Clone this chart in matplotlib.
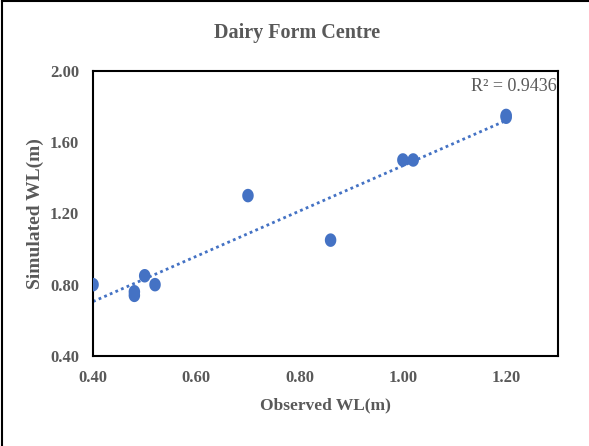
import matplotlib
matplotlib.use("Agg")
import matplotlib.pyplot as plt
import numpy as np
from matplotlib.lines import Line2D
from matplotlib.path import Path

observed = [0.40, 0.48, 0.48, 0.50, 0.52, 0.70, 0.86, 1.00, 1.02, 1.20, 1.20]
simulated = [0.80, 0.76, 0.74, 0.85, 0.80, 1.30, 1.05, 1.50, 1.50, 1.75, 1.74]
x_ticks = [0.40, 0.60, 0.80, 1.00, 1.20]
y_ticks = [0.40, 0.80, 1.20, 1.60, 2.00]
r_squared = 0.9436
title = "Dairy Form Centre"
x_label = "Observed WL(m)"
y_label = "Simulated WL(m)"

blue = "#4472C4"
gray = "#595959"
serif = ["Liberation Serif", "DejaVu Serif"]

fig = plt.figure(figsize=(5.89, 4.46), dpi=100)
ax = fig.add_axes([0.158, 0.202, 0.789, 0.639])

xo = np.array(observed)
ys = np.array(simulated)
m, b = np.polyfit(xo, ys, 1)
xl = np.array([xo.min(), xo.max()])
ax.plot(xl, m * xl + b, linestyle=(0, (1, 1.2)), color=blue, linewidth=2.0, zorder=2)

# vertically elongated ellipse marker
t = np.linspace(0, 2 * np.pi, 40)
ellipse = Path(np.column_stack([0.85 * np.cos(t), 1.0 * np.sin(t)]), closed=True)
ax.scatter(xo, ys, s=95, marker=ellipse, color=blue, zorder=3, edgecolors="none")

ax.set_xlim(0.4, 1.3)
ax.set_ylim(0.4, 2.0)
ax.set_xticks(x_ticks)
ax.set_yticks(y_ticks)
ax.set_xticklabels([f"{v:.2f}" for v in x_ticks])
ax.set_yticklabels([f"{v:.2f}" for v in y_ticks])
ax.tick_params(length=0, pad=10, labelsize=12, labelcolor=gray)
for lab in ax.get_xticklabels() + ax.get_yticklabels():
    lab.set_fontfamily(serif)
    lab.set_fontweight("bold")
for s in ax.spines.values():
    s.set_linewidth(1.5)
    s.set_color("black")

ax.set_xlabel(x_label, fontsize=12.5, fontweight="bold", color=gray, family=serif, labelpad=8)
ax.set_ylabel(y_label, fontsize=14, fontweight="bold", color=gray, family=serif, labelpad=4)
fig.text(0.505, 0.926, title, ha="center", va="center", fontsize=14.5, fontweight="bold",
         color=gray, family=serif)
ax.text(0.998, 0.945, f"R² = {r_squared:.4f}", transform=ax.transAxes, ha="right", va="center",
        fontsize=13, color=gray, family=serif)

# partial outer border (left and top)
fig.add_artist(Line2D([0.004, 0.004], [0, 0.998], transform=fig.transFigure, color="black", linewidth=1.5))
fig.add_artist(Line2D([0.004, 1.0], [0.997, 0.997], transform=fig.transFigure, color="black", linewidth=1.5))

fig.savefig("out.png", dpi=100)
